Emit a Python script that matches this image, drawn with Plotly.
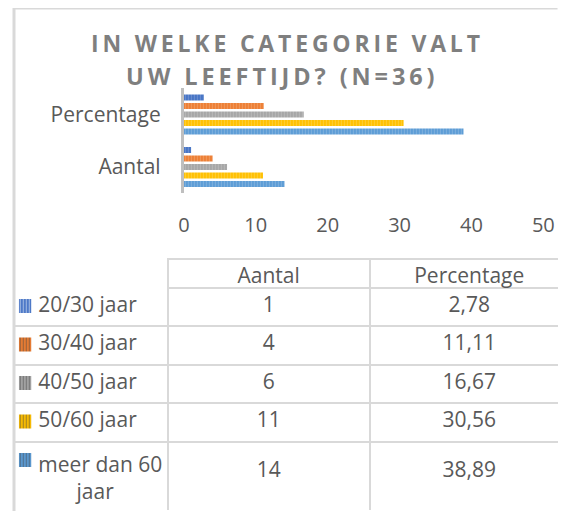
import plotly.graph_objects as go

# ---- data ----
categories = ["Aantal", "Percentage"]
series_names = ["20/30 jaar", "30/40 jaar", "40/50 jaar", "50/60 jaar", "meer dan 60 jaar"]
aantal = [1, 4, 6, 11, 14]
percentage = [2.78, 11.11, 16.67, 30.56, 38.89]
x_ticks = [0, 10, 20, 30, 40, 50]
title_lines = ["IN WELKE CATEGORIE VALT", "UW LEEFTIJD? (N=36)"]

colors = ["#4472C4", "#ED7D31", "#A5A5A5", "#FFC000", "#5B9BD5"]
tints = ["#8FAADC", "#F4B183", "#C9C9C9", "#FFD966", "#9DC3E6"]

W, H = 580, 503
# observed page placement of the paper area
XO, WR = 12.5, W - 16
YO = 8
TXT = "#595959"
GRID = "#D9D9D9"
FONT = "Open Sans"
NB = "\u00a0"


def px(x):
    return (x - XO) / WR


def py(y):
    return 1 - (y - YO) / H


fig = go.Figure()

for name, a, p, c, t in zip(series_names, aantal, percentage, colors, tints):
    fig.add_trace(go.Bar(
        y=categories, x=[a, p], name=name, orientation="h",
        marker=dict(color=c, line=dict(width=0),
                    pattern=dict(shape="|", fillmode="overlay", fgcolor=t,
                                 size=3, solidity=0.4)),
        showlegend=False,
    ))

# ---- legend keys inside the table (striped bars on a hidden axis pair) ----
fig.add_trace(go.Bar(
    y=series_names, x=[1] * len(series_names), orientation="h", width=0.36,
    xaxis="x2", yaxis="y2",
    marker=dict(color=colors, line=dict(width=0),
                pattern=dict(shape="|", fillmode="overlay", fgcolor=tints,
                             size=3, solidity=0.4)),
    showlegend=False, hoverinfo="skip",
))

# ---- table ----
label_cells = []
for name in series_names:
    if name == "meer dan 60 jaar":
        label_cells.append(NB * 3 + "meer dan 60<br>" + NB * 10 + "jaar")
    else:
        label_cells.append(NB * 3 + name)
aantal_cells = [str(v) for v in aantal]
pct_cells = [f"{v:.2f}".replace(".", ",") for v in percentage]
aantal_cells[-1] = "<br>" + aantal_cells[-1]
pct_cells[-1] = "<br>" + pct_cells[-1]

TABLE_RIGHT = 569
col1 = 166.7 - XO
col2 = 369 - 166.7
col3 = TABLE_RIGHT - 369
clear = "rgba(0,0,0,0)"
fig.add_trace(go.Table(
    domain=dict(x=[0.0, px(TABLE_RIGHT)], y=[0.0, py(259)]),
    columnwidth=[col1, col2, col3],
    header=dict(values=["", "Aantal", "Percentage"],
                align=["left", "center", "center"],
                line=dict(color=["white", GRID, GRID], width=2),
                fill=dict(color=clear),
                font=dict(family=FONT, size=21, color=TXT),
                height=29),
    cells=dict(values=[label_cells, aantal_cells, pct_cells],
               align=["left", "center", "center"],
               line=dict(color=GRID, width=2),
               fill=dict(color=clear),
               font=dict(family=FONT, size=21, color=TXT),
               height=38.4),
))

# ---- title ----
thin = "\u2009"
for line, xc, yc, fs in zip(title_lines, [284, 279], [43, 76.3], [23, 23.5]):
    fig.add_annotation(
        text=thin.join(list(line)), x=px(xc), y=py(yc), xref="paper", yref="paper",
        xanchor="center", yanchor="middle", showarrow=False,
        font=dict(family=FONT, size=fs, color="#7F7F7F", weight="bold"),
    )

# ---- frame ----
fig.add_shape(type="line", xref="paper", yref="paper", x0=0, x1=px(557),
              y0=1, y1=1, line=dict(color=GRID, width=3))
fig.add_shape(type="line", xref="paper", yref="paper", x0=0, x1=0,
              y0=1, y1=0, line=dict(color=GRID, width=3))

fig.update_layout(
    width=W, height=H, autosize=False,
    margin=dict(l=0, r=0, t=0, b=0),
    paper_bgcolor="white", plot_bgcolor="rgba(0,0,0,0)",
    barmode="group", bargap=0.19, bargroupgap=0.3,
    font=dict(family=FONT, color=TXT),
    xaxis=dict(domain=[px(182.7), px(542.8)], range=[0, 50], tickvals=x_ticks,
               showgrid=False, zeroline=False, showline=False,
               tickfont=dict(family=FONT, size=20, color=TXT),
               ticklabelstandoff=18, fixedrange=True),
    yaxis=dict(domain=[py(193.3), py(88.3)], type="category",
               categoryorder="array", categoryarray=["Percentage", "Aantal"],
               autorange="reversed", showgrid=False, zeroline=False,
               showline=True, linecolor="#BFBFBF", linewidth=3,
               tickfont=dict(family=FONT, size=21, color=TXT),
               ticklabelstandoff=16, fixedrange=True),
    xaxis2=dict(domain=[px(17.3), px(30)], range=[0, 1], visible=False,
                anchor="y2", fixedrange=True),
    yaxis2=dict(domain=[py(479.25), py(286.75)], type="category",
                categoryorder="array", categoryarray=series_names,
                range=[len(series_names) - 0.5, -0.5], visible=False,
                anchor="x2", fixedrange=True),
)

fig.write_html("out.html")
